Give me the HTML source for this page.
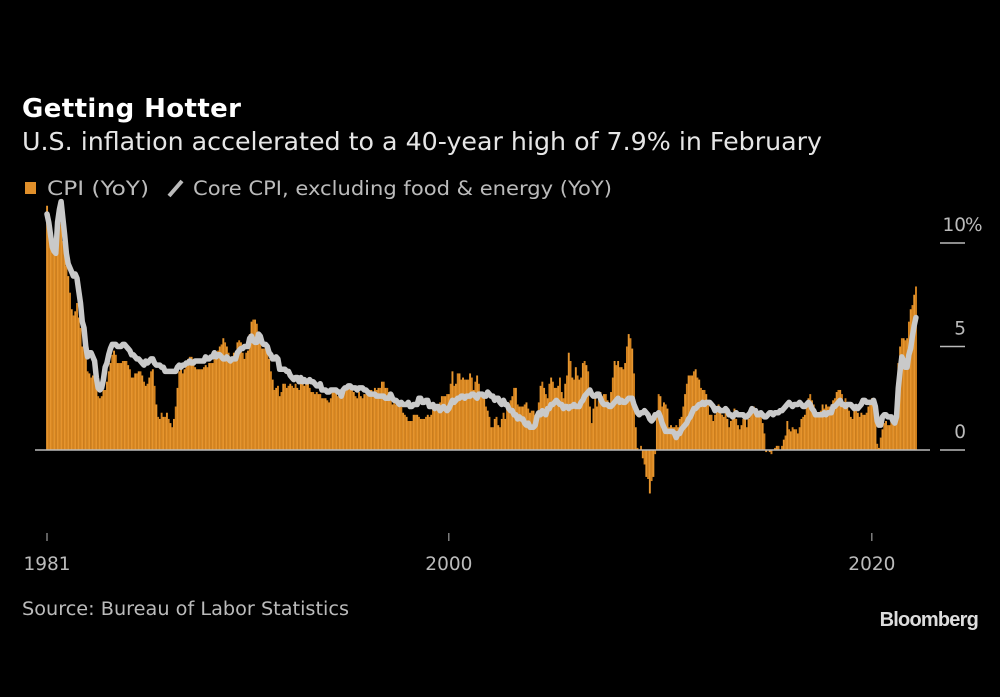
<!DOCTYPE html>
<html><head><meta charset="utf-8"><style>
html,body{margin:0;padding:0;background:#000;}
svg{display:block;font-family:"Liberation Sans","DejaVu Sans",sans-serif;}
</style></head><body>
<svg id="chart" width="1000" height="697" viewBox="0 0 1000 697">
<rect width="1000" height="697" fill="#000"/>
<text x="22" y="117" fill="#fff" font-size="26" font-weight="bold" font-family="DejaVu Sans, sans-serif" textLength="219" lengthAdjust="spacing">Getting Hotter</text>
<text x="22" y="150" fill="#e6e6e6" font-size="24.5" font-family="DejaVu Sans, sans-serif" textLength="800" lengthAdjust="spacingAndGlyphs">U.S. inflation accelerated to a 40-year high of 7.9% in February</text>
<g>
<rect x="25" y="182" width="11" height="12" fill="#e08f2a"/>
<text x="47" y="195" fill="#bbb" font-size="19.5" font-family="DejaVu Sans, sans-serif" textLength="102" lengthAdjust="spacingAndGlyphs">CPI (YoY)</text>
<line x1="169" y1="196" x2="182" y2="181" stroke="#bbb" stroke-width="4"/>
<text x="193" y="195" fill="#bbb" font-size="19.5" font-family="DejaVu Sans, sans-serif" textLength="419" lengthAdjust="spacingAndGlyphs">Core CPI, excluding food &amp; energy (YoY)</text>
</g>
<g id="bars"></g>
<line x1="35" y1="450" x2="930" y2="450" stroke="#bbb" stroke-width="1.5"/>
<path id="coreLine" fill="none" stroke="#c9c9c9" stroke-width="5.5" stroke-linejoin="round" stroke-linecap="round"/>
<g id="yaxis"></g>
<g id="xaxis"></g>
<text x="22" y="615" fill="#bbb" font-size="18.5" font-family="DejaVu Sans, sans-serif" textLength="327" lengthAdjust="spacingAndGlyphs">Source: Bureau of Labor Statistics</text>
<text x="978" y="626" fill="#ddd" font-size="20" font-weight="bold" text-anchor="end" letter-spacing="-0.8">Bloomberg</text>
</svg>
<script>
const startYear = 1981;
const cpi = [
11.8,11.4,10.5,10.0,9.8,9.6,10.8,10.8,11.0,10.1,9.6,8.9,
8.4,7.6,6.8,6.5,6.7,7.1,6.4,5.9,5.0,5.1,4.6,3.8,
3.7,3.5,3.6,3.9,3.5,2.6,2.5,2.6,2.9,2.9,3.3,3.8,
4.2,4.6,4.8,4.6,4.2,4.2,4.2,4.3,4.3,4.3,4.1,3.9,
3.5,3.5,3.7,3.7,3.8,3.8,3.6,3.3,3.1,3.2,3.5,3.8,
3.9,3.1,2.2,1.6,1.5,1.8,1.6,1.6,1.8,1.5,1.3,1.1,
1.5,2.1,3.0,3.8,3.9,3.7,3.9,4.3,4.4,4.5,4.5,4.4,
4.0,3.9,3.9,3.9,3.9,4.0,4.1,4.0,4.2,4.2,4.2,4.4,
4.7,4.8,5.0,5.1,5.4,5.2,5.0,4.7,4.3,4.5,4.7,4.6,
5.2,5.3,5.2,4.7,4.4,4.7,4.8,5.6,6.2,6.3,6.3,6.1,
5.7,5.3,4.9,4.9,5.0,4.7,4.4,3.8,3.4,2.9,3.0,3.1,
2.6,2.8,3.2,3.2,3.0,3.1,3.2,3.1,3.0,3.2,3.0,2.9,
3.3,3.2,3.1,3.2,3.2,3.0,2.8,2.8,2.7,2.8,2.7,2.7,
2.5,2.5,2.5,2.4,2.3,2.5,2.8,2.9,3.0,2.6,2.7,2.7,
2.8,2.9,2.9,3.1,3.2,3.0,2.8,2.6,2.5,2.8,2.6,2.5,
2.7,2.7,2.8,2.9,2.9,2.8,3.0,2.9,3.0,3.0,3.3,3.3,
3.0,3.0,2.8,2.5,2.2,2.3,2.2,2.2,2.2,2.1,1.8,1.7,
1.6,1.4,1.4,1.4,1.7,1.7,1.7,1.6,1.5,1.5,1.5,1.6,
1.7,1.6,1.7,2.3,2.1,2.0,2.1,2.3,2.6,2.6,2.6,2.7,
2.7,3.2,3.8,3.1,3.2,3.7,3.7,3.4,3.5,3.4,3.4,3.4,
3.7,3.5,2.9,3.3,3.6,3.2,2.7,2.7,2.6,2.1,1.9,1.6,
1.1,1.1,1.5,1.6,1.2,1.1,1.5,1.8,1.5,2.0,2.2,2.4,
2.6,3.0,3.0,2.2,2.1,2.1,2.1,2.2,2.3,2.0,1.8,1.9,
1.9,1.7,1.7,2.3,3.1,3.3,3.0,2.7,2.5,3.2,3.5,3.3,
3.0,3.0,3.1,3.5,2.8,2.5,3.2,3.6,4.7,4.3,3.5,3.4,
4.0,3.6,3.4,3.5,4.2,4.3,4.1,3.8,2.1,1.3,2.0,2.5,
2.1,2.4,2.8,2.6,2.7,2.7,2.4,2.0,2.8,3.5,4.3,4.1,
4.3,4.0,4.0,3.9,4.2,5.0,5.6,5.4,4.9,3.7,1.1,0.1,
0.0,0.2,-0.4,-0.7,-1.3,-1.4,-2.1,-1.5,-1.3,-0.2,1.8,2.7,
2.6,2.1,2.3,2.2,2.0,1.1,1.2,1.1,1.1,1.2,1.1,1.5,
1.6,2.1,2.7,3.2,3.6,3.6,3.6,3.8,3.9,3.5,3.4,3.0,
2.9,2.9,2.7,2.3,1.7,1.7,1.4,1.7,2.0,2.2,1.8,1.7,
1.6,2.0,1.5,1.1,1.4,1.8,2.0,1.5,1.2,1.0,1.2,1.5,
1.6,1.1,1.5,2.0,2.1,2.1,2.0,1.7,1.7,1.7,1.3,0.8,
-0.1,0.0,-0.1,-0.2,0.0,0.1,0.2,0.2,0.0,0.2,0.5,0.7,
1.4,1.0,0.9,1.1,1.0,1.0,0.8,1.1,1.5,1.6,1.7,2.1,
2.5,2.7,2.4,2.2,1.9,1.6,1.7,1.9,2.2,2.0,2.2,2.1,
2.1,2.2,2.4,2.5,2.8,2.9,2.9,2.7,2.3,2.5,2.2,1.9,
1.6,1.5,1.9,2.0,1.8,1.6,1.8,1.7,1.7,1.8,2.1,2.3,
2.5,2.3,1.5,0.3,0.1,0.6,1.0,1.3,1.4,1.2,1.2,1.4,
1.4,1.7,2.6,4.2,5.0,5.4,5.4,5.3,5.4,6.2,6.8,7.0,
7.5,7.9];
const core = [
11.4,11.0,10.4,9.8,9.6,9.5,11.0,11.6,12.0,11.2,10.4,9.5,
9.0,8.8,8.6,8.4,8.5,8.3,7.7,7.1,6.2,5.9,5.0,4.5,
4.7,4.7,4.5,4.3,3.5,3.0,2.9,3.0,3.4,4.0,4.2,4.6,
4.9,5.1,5.1,5.1,5.0,5.0,5.0,5.1,5.1,5.0,4.9,4.8,
4.6,4.6,4.5,4.4,4.4,4.3,4.2,4.1,4.3,4.2,4.3,4.4,
4.4,4.2,4.1,4.1,4.1,4.0,4.0,3.8,3.8,3.8,3.8,3.8,
3.8,3.8,4.0,4.1,4.0,4.1,4.1,4.2,4.2,4.3,4.2,4.2,
4.3,4.3,4.3,4.3,4.3,4.3,4.5,4.4,4.4,4.5,4.5,4.7,
4.5,4.6,4.6,4.5,4.4,4.4,4.5,4.4,4.3,4.4,4.4,4.4,
4.7,4.8,4.9,4.9,5.0,5.0,5.0,5.4,5.5,5.3,5.2,5.2,
5.6,5.5,5.2,5.1,5.1,5.0,4.7,4.6,4.4,4.4,4.5,4.4,
3.9,3.9,3.9,3.9,3.8,3.8,3.6,3.5,3.4,3.5,3.5,3.3,
3.5,3.3,3.4,3.3,3.3,3.4,3.3,3.3,3.2,3.1,3.1,3.2,
2.9,2.9,2.9,2.8,2.8,2.9,2.9,2.9,2.9,2.8,2.8,2.6,
2.9,3.0,3.0,3.1,3.1,3.0,3.0,3.0,2.9,3.0,3.0,3.0,
2.9,2.9,2.8,2.7,2.7,2.7,2.7,2.6,2.6,2.6,2.6,2.6,
2.5,2.5,2.5,2.7,2.5,2.4,2.4,2.3,2.2,2.3,2.2,2.2,
2.2,2.3,2.1,2.1,2.2,2.2,2.2,2.5,2.5,2.3,2.3,2.4,
2.4,2.1,2.1,2.2,2.0,2.1,2.1,1.9,2.0,2.1,2.0,1.9,
2.0,2.2,2.4,2.3,2.4,2.5,2.5,2.6,2.6,2.5,2.6,2.6,
2.6,2.7,2.7,2.6,2.5,2.7,2.7,2.7,2.6,2.6,2.8,2.7,
2.6,2.6,2.4,2.5,2.5,2.3,2.2,2.4,2.2,2.2,2.0,1.9,
1.9,1.7,1.7,1.5,1.6,1.5,1.5,1.3,1.2,1.3,1.1,1.1,
1.1,1.2,1.6,1.8,1.7,1.9,1.8,1.7,2.0,2.0,2.2,2.2,
2.3,2.4,2.3,2.2,2.2,2.0,2.1,2.1,2.0,2.1,2.1,2.2,
2.1,2.1,2.1,2.3,2.4,2.6,2.7,2.8,2.9,2.7,2.6,2.6,
2.7,2.7,2.5,2.3,2.2,2.2,2.2,2.1,2.1,2.2,2.3,2.4,
2.5,2.3,2.4,2.3,2.3,2.4,2.5,2.5,2.5,2.2,2.0,1.8,
1.7,1.8,1.8,1.9,1.8,1.7,1.5,1.4,1.5,1.7,1.7,1.8,
1.6,1.3,1.1,0.9,0.9,0.9,0.9,0.9,0.8,0.6,0.8,0.8,
1.0,1.1,1.2,1.3,1.5,1.6,1.8,2.0,2.0,2.1,2.2,2.2,
2.3,2.2,2.3,2.3,2.3,2.2,2.1,1.9,2.0,2.0,1.9,1.9,
1.9,2.0,1.9,1.7,1.7,1.6,1.7,1.8,1.7,1.7,1.7,1.7,
1.6,1.6,1.7,1.8,2.0,1.9,1.9,1.7,1.7,1.8,1.7,1.6,
1.6,1.7,1.8,1.8,1.7,1.8,1.8,1.8,1.9,1.9,2.0,2.1,
2.2,2.3,2.2,2.1,2.2,2.2,2.2,2.3,2.2,2.1,2.1,2.2,
2.3,2.2,2.0,1.9,1.7,1.7,1.7,1.7,1.7,1.8,1.7,1.8,
1.8,1.8,2.1,2.1,2.2,2.3,2.4,2.2,2.2,2.1,2.2,2.2,
2.2,2.1,2.0,2.1,2.0,2.1,2.2,2.4,2.4,2.3,2.3,2.3,
2.3,2.4,2.1,1.4,1.2,1.2,1.6,1.7,1.7,1.6,1.6,1.6,
1.4,1.3,1.6,3.0,3.8,4.5,4.3,4.0,4.0,4.6,4.9,5.5,
6.0,6.4];
const yTicks = [0, 5, 10];
const yTickLabels = ["0", "5", "10"];
const xTickYears = [1981, 2000, 2020];

const NS = "http://www.w3.org/2000/svg";
const pxPerYear = 21.15;
function xScale(monthIndex){ return 47 + monthIndex * pxPerYear / 12; }
function xYear(year){ return 47 + (year - startYear) * pxPerYear; }
function yScale(v){ return 450 - v * 20.7; }

const barsG = document.getElementById('bars');
const bw = pxPerYear / 12;
cpi.forEach((v, i) => {
  const r = document.createElementNS(NS, 'rect');
  const y0 = yScale(0), y1 = yScale(v);
  r.setAttribute('x', xScale(i) - bw / 2);
  r.setAttribute('width', bw + 0.15);
  r.setAttribute('y', Math.min(y0, y1));
  r.setAttribute('height', Math.abs(y1 - y0));
  r.setAttribute('fill', i % 2 ? '#d4831f' : '#e6952e');
  
  
  barsG.appendChild(r);
});
document.getElementById('coreLine').setAttribute('d',
  core.map((v, i) => (i ? 'L' : 'M') + xScale(i).toFixed(2) + ',' + yScale(v).toFixed(2)).join(''));

const yG = document.getElementById('yaxis');
yTicks.forEach((t, k) => {
  const y = yScale(t);
  const l = document.createElementNS(NS, 'line');
  l.setAttribute('x1', 940); l.setAttribute('x2', 965);
  l.setAttribute('y1', y); l.setAttribute('y2', y);
  l.setAttribute('stroke', '#bbb'); l.setAttribute('stroke-width', 1.5);
  
  
  yG.appendChild(l);
  const tx = document.createElementNS(NS, 'text');
  tx.setAttribute('x', 966); tx.setAttribute('y', y - 12);
  tx.setAttribute('text-anchor', 'end');
  tx.setAttribute('fill', '#bbb'); tx.setAttribute('font-size', '18.5');
  tx.setAttribute('font-family', 'DejaVu Sans, sans-serif');
  tx.textContent = yTickLabels[k];
  
  
  yG.appendChild(tx);
  if (k === yTicks.length - 1) {
    const p = document.createElementNS(NS, 'text');
    p.setAttribute('x', 965); p.setAttribute('y', y - 12);
    p.setAttribute('fill', '#bbb'); p.setAttribute('font-size', '18.5');
    p.setAttribute('font-family', 'DejaVu Sans, sans-serif');
    p.textContent = '%';
    
    
    yG.appendChild(p);
  }
});

const xG = document.getElementById('xaxis');
xTickYears.forEach(yr => {
  const x = xYear(yr);
  const l = document.createElementNS(NS, 'line');
  l.setAttribute('x1', x); l.setAttribute('x2', x);
  l.setAttribute('y1', 533); l.setAttribute('y2', 541);
  l.setAttribute('stroke', '#bbb'); l.setAttribute('stroke-width', 1);
  
  
  xG.appendChild(l);
  const tx = document.createElementNS(NS, 'text');
  tx.setAttribute('x', x); tx.setAttribute('y', 570);
  tx.setAttribute('text-anchor', 'middle');
  tx.setAttribute('fill', '#bbb'); tx.setAttribute('font-size', '18.5');
  tx.setAttribute('font-family', 'DejaVu Sans, sans-serif');
  tx.textContent = yr;
  
  
  xG.appendChild(tx);
});
</script>
</body></html>
